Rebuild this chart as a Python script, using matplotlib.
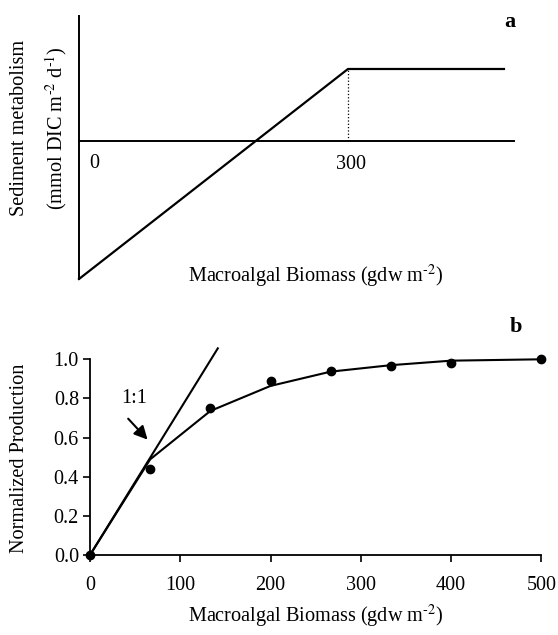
import numpy as np
import matplotlib
matplotlib.use('Agg')
import matplotlib.pyplot as plt

plt.rcParams['font.family'] = ['Liberation Serif', 'DejaVu Serif']
plt.rcParams['mathtext.fontset'] = 'stix'

# panel a: conceptual model (arbitrary units)
a_x = [0, 300, 474]
a_y = [-1.929, 1.0, 1.0]
a_kink = 300
a_ticks = [0, 300]

# panel b: normalized production vs biomass
b_x = [0, 66.7, 133.3, 200, 266.7, 333.3, 400, 500]
b_obs = [0.0, 0.438, 0.753, 0.887, 0.94, 0.967, 0.983, 1.0]
b_fit = [0.0, 0.489, 0.736, 0.864, 0.937, 0.97, 0.993, 1.0]
one_x = [0, 141.6]
one_y = [0.0, 1.056]

W, H = 558, 635
fig = plt.figure(figsize=(W/100, H/100), dpi=100)
LBL = 14.6
TCK = 14.5

# ---- panel a
ax = fig.add_axes([79/W, 1-279/H, 435.3/W, 263/H])
ax.plot(a_x, a_y, color='black', lw=1.6, clip_on=False)
ax.plot([a_kink, a_kink], [0, a_y[1]], color='black', lw=0.9, ls=':')
ax.set_xlim(0, 485.5)
ax.set_ylim(-1.929, 1.739)
for s in ['top', 'right']:
    ax.spines[s].set_visible(False)
ax.spines['bottom'].set_position(('data', 0))
ax.spines['left'].set_linewidth(1.4)
ax.spines['bottom'].set_linewidth(1.4)
ax.set_xticks([])
ax.set_yticks([])
ax.text(a_ticks[0] + 17, -0.318, '0', fontsize=TCK, ha='center', va='center')
ax.text(a_ticks[1] + 3, -0.33, '300', fontsize=TCK, ha='center', va='center')
fig.text(315.7/W, 1-276.7/H, r'Macroalgal Biomass (gdw m$^{\text{-2}}$)', fontsize=LBL,
         ha='center', va='center')
fig.text(20/W, 1-128/H, 'Sediment metabolism', fontsize=LBL,
         rotation=90, ha='center', va='center')
fig.text(56/W, 1-128/H, r'(mmol DIC m$^{\text{-2}}$ d$^{\text{-1}}$)', fontsize=LBL,
         rotation=90, ha='center', va='center')
fig.text(509.6/W, 1-21.7/H, 'a', fontsize=16, fontweight='bold',
         ha='center', va='center')

# ---- panel b
bx = fig.add_axes([90/W, 1-555/H, 451.3/W, 195.7/H])
bx.plot(one_x, one_y, color='black', lw=1.5, clip_on=False)
bx.plot(b_x, b_fit, color='black', lw=1.5, clip_on=False)
bx.plot(b_x, b_obs, 'o', color='black', ms=6, clip_on=False)
bx.set_xlim(0, 500)
bx.set_ylim(0, 1.0)
for s in ['top', 'right']:
    bx.spines[s].set_visible(False)
bx.spines['left'].set_linewidth(1.3)
bx.spines['bottom'].set_linewidth(1.3)
bx.set_xticks(range(0, 501, 100))
bx.set_yticks(np.arange(0, 1.01, 0.2))
bx.set_yticklabels(['%.1f' % v for v in np.arange(0, 1.01, 0.2)])
bx.tick_params(direction='out', length=5, width=1.2, labelsize=TCK)
bx.tick_params(axis='y', pad=3)
bx.tick_params(axis='x', pad=10)
bx.set_xlabel(r'Macroalgal Biomass (gdw m$^{\text{-2}}$)', fontsize=LBL)
bx.xaxis.set_label_coords(315.6/W, 1-616/H, transform=fig.transFigure)
bx.xaxis.label.set_va('center')
bx.set_ylabel('Normalized Production', fontsize=LBL)
bx.yaxis.set_label_coords(20/W, 1-458/H, transform=fig.transFigure)
bx.yaxis.label.set_va('center')
bx.annotate('', xy=(65.9, 0.579), xytext=(40.2, 0.707),
            arrowprops=dict(arrowstyle='-|>', color='black', lw=1.5,
                            mutation_scale=20))
bx.text(49, 0.80, '1:1', fontsize=TCK, ha='center', va='center')
fig.text(516/W, 1-326.7/H, 'b', fontsize=16, fontweight='bold',
         ha='center', va='center')

fig.savefig('out.png', dpi=100)
